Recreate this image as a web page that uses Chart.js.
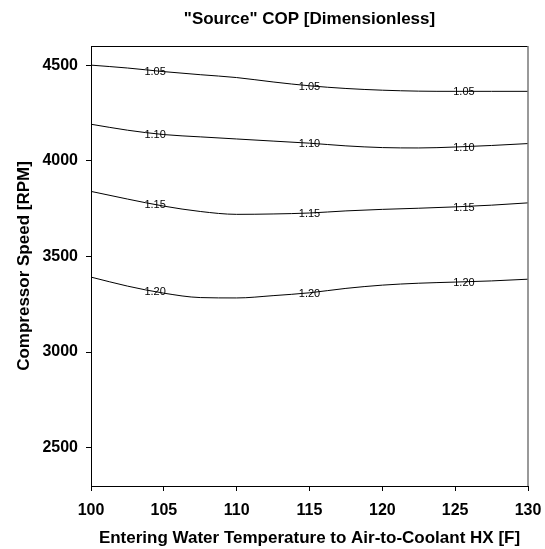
<!DOCTYPE html>
<html>
<head>
<meta charset="utf-8">
<script src="https://cdn.jsdelivr.net/npm/chart.js@4/dist/chart.umd.min.js"></script>
<style>
html,body{margin:0;padding:0;background:#fff;}
canvas{display:block;}
</style>
</head>
<body>
<canvas id="c" width="545" height="549"></canvas>
<script>
// ---- data ----
const xValues = [100, 102.5, 105, 107.5, 110, 112.5, 115, 117.5, 120, 122.5, 125, 127.5, 130];
const cop105 = [4500, 4485, 4466, 4450, 4435, 4412, 4392, 4378, 4369, 4364, 4363, 4363, 4363];
const cop110 = [4191, 4160, 4137, 4125, 4114, 4103, 4092, 4078, 4069, 4067, 4072, 4080, 4090];
const cop115 = [3840, 3800, 3763, 3735, 3720, 3722, 3727, 3738, 3746, 3752, 3759, 3768, 3780];
const cop120 = [3392, 3345, 3308, 3285, 3283, 3295, 3310, 3333, 3350, 3360, 3366, 3372, 3381];
const contourLevels = ["1.05", "1.10", "1.15", "1.20"];
const labelXs = [104.4, 115, 125.6];
const xTicks = [100, 105, 110, 115, 120, 125, 130];
const yTicks = [2500, 3000, 3500, 4000, 4500];
const chartTitle = '"Source" COP [Dimensionless]';
const xTitle = 'Entering Water Temperature to Air-to-Coolant HX [F]';
const yTitle = 'Compressor Speed [RPM]';

const series = [cop105, cop110, cop115, cop120];
const datasets = series.map((s, i) => ({
  label: contourLevels[i],
  data: xValues.map((x, j) => ({x: x, y: s[j]})),
  borderColor: '#000',
  borderWidth: 1,
  pointRadius: 0,
  showLine: true,
  fill: false,
  cubicInterpolationMode: 'monotone'
}));

function interp(data, x) {
  for (let i = 0; i < data.length - 1; i++) {
    if (x >= data[i].x && x <= data[i+1].x) {
      const t = (x - data[i].x) / (data[i+1].x - data[i].x);
      return data[i].y + t * (data[i+1].y - data[i].y);
    }
  }
  return data[data.length-1].y;
}

const FONT = '"Liberation Sans", Arial, sans-serif';

const decor = {
  id: 'decor',
  afterDatasetsDraw(chart) {
    const ctx = chart.ctx;
    const a = chart.chartArea;
    const xs = chart.scales.x, ys = chart.scales.y;
    ctx.save();
    // contour labels
    ctx.font = '11px ' + FONT;
    ctx.fillStyle = '#000';
    ctx.textAlign = 'center';
    ctx.textBaseline = 'middle';
    chart.data.datasets.forEach(ds => {
      labelXs.forEach(lx => {
        const yv = interp(ds.data, lx);
        ctx.fillText(ds.label, xs.getPixelForValue(lx), ys.getPixelForValue(yv) + 1);
      });
    });
    // frame top/right
    ctx.strokeStyle = '#000';
    ctx.lineWidth = 1;
    ctx.beginPath();
    ctx.moveTo(a.left, a.top + 0.5);
    ctx.lineTo(a.right, a.top + 0.5);
    ctx.stroke();
    ctx.strokeStyle = '#777';
    ctx.lineWidth = 1.5;
    ctx.beginPath();
    ctx.moveTo(a.right, a.top);
    ctx.lineTo(a.right, a.bottom);
    ctx.stroke();
    // titles
    ctx.fillStyle = '#000';
    ctx.font = 'bold 17px ' + FONT;
    ctx.textAlign = 'center';
    ctx.textBaseline = 'middle';
    const cx = (a.left + a.right) / 2;
    ctx.fillText(chartTitle, cx, 19);
    ctx.fillText(xTitle, cx, 538);
    ctx.translate(24, (a.top + a.bottom) / 2);
    ctx.rotate(-Math.PI / 2);
    ctx.fillText(yTitle, 0, 0);
    ctx.restore();
  }
};

new Chart(document.getElementById('c'), {
  type: 'scatter',
  data: {datasets: datasets},
  options: {
    responsive: false,
    animation: false,
    devicePixelRatio: 1,
    layout: {padding: {top: 46, right: 17, left: 0, bottom: 0}},
    plugins: {legend: {display: false}, title: {display: false}, tooltip: {enabled: false}},
    scales: {
      x: {
        type: 'linear', min: 100, max: 130,
        afterBuildTicks: s => { s.ticks = xTicks.map(v => ({value: v})); },
        afterFit: s => { s.height = 63; s.paddingLeft = 0; s.paddingRight = 0; },
        grid: {drawOnChartArea: false, drawTicks: true, tickLength: 5, color: '#000', tickColor: '#000'},
        border: {display: true, color: '#000', width: 1},
        ticks: {color: '#000', font: {family: FONT, size: 16, weight: 'bold'}, padding: 10, maxRotation: 0,
                callback: v => String(v)}
      },
      y: {
        type: 'linear', min: 2300, max: 4600,
        afterBuildTicks: s => { s.ticks = yTicks.map(v => ({value: v})); },
        afterFit: s => { s.width = 91; s.paddingTop = 0; s.paddingBottom = 0; },
        grid: {drawOnChartArea: false, drawTicks: true, tickLength: 5, color: '#000', tickColor: '#000'},
        border: {display: true, color: '#000', width: 1},
        ticks: {color: '#000', font: {family: FONT, size: 16, weight: 'bold'}, padding: 8,
                callback: v => String(v)}
      }
    }
  },
  plugins: [decor]
});
</script>
</body>
</html>
